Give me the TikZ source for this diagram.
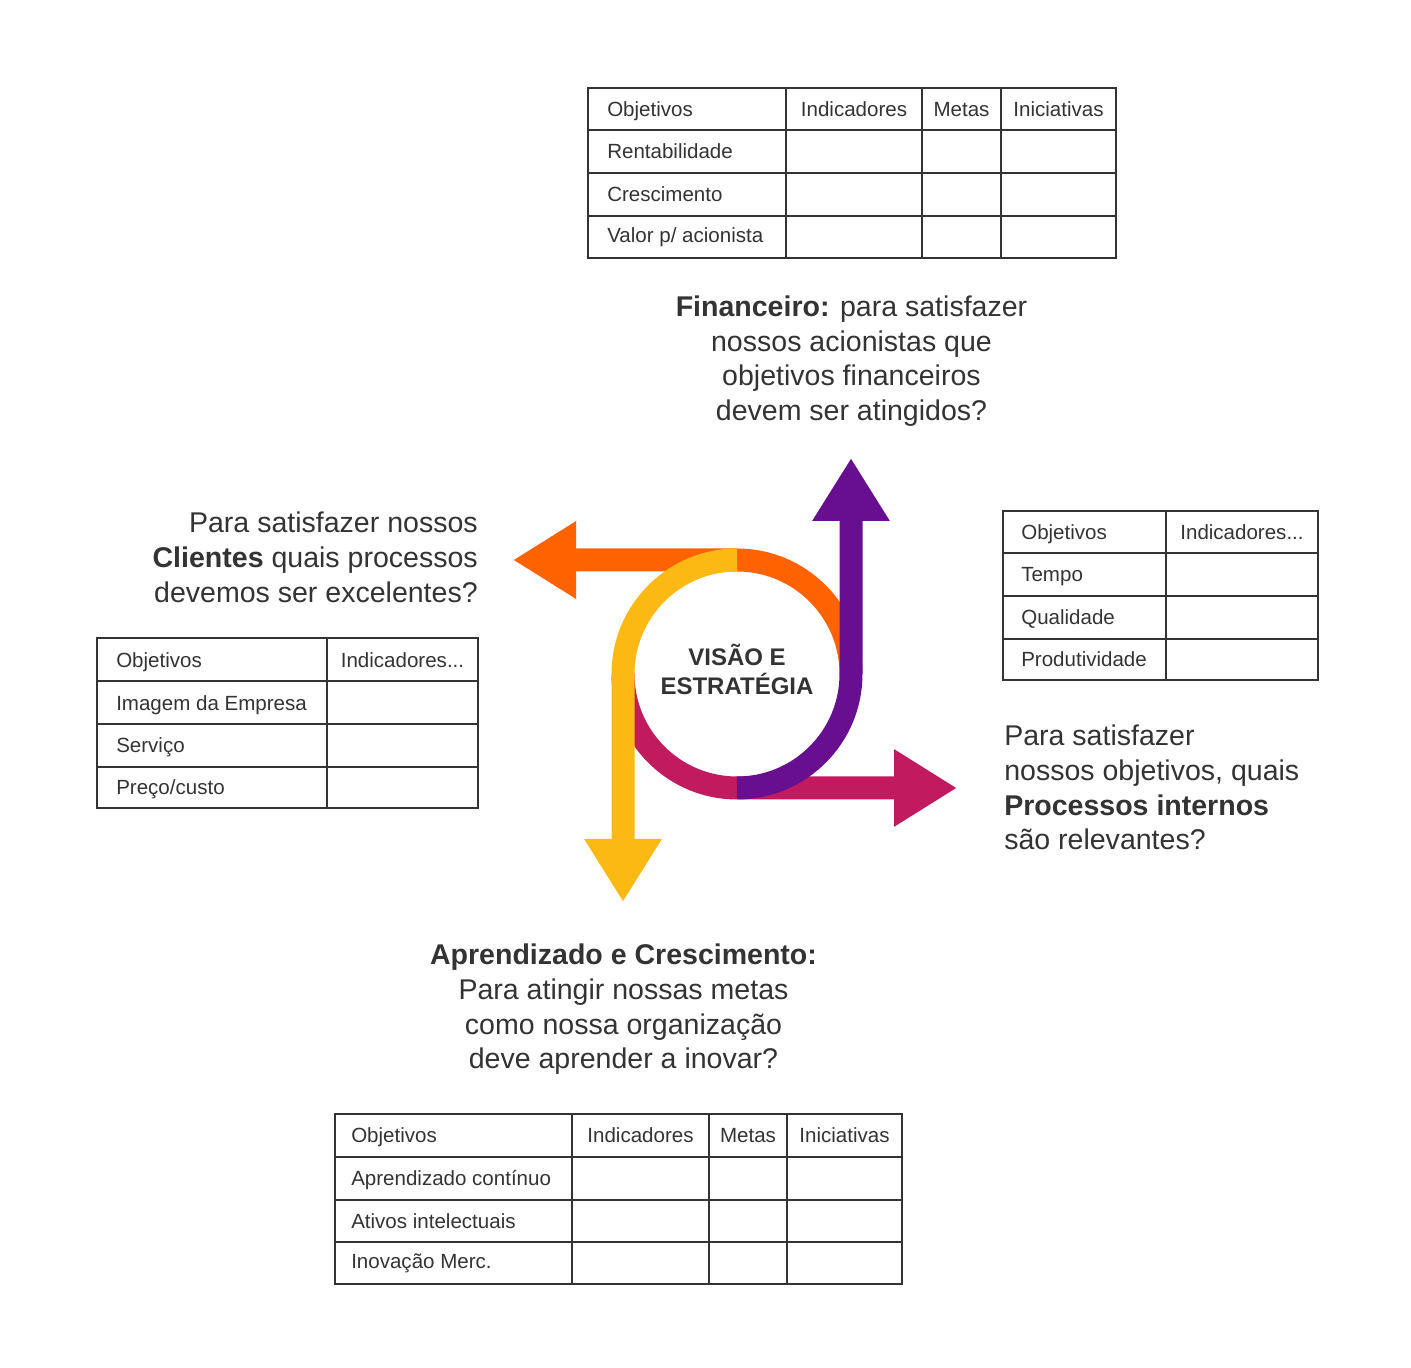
\documentclass[tikz,border=0pt]{standalone}
\usepackage{fontspec}
\setmainfont{Liberation Sans}
\usepackage{tikz}
\usetikzlibrary{arrows.meta}
\definecolor{TextGray}{HTML}{333333}
\definecolor{VisionOrange}{HTML}{FF6200}
\definecolor{VisionYellow}{HTML}{FDB913}
\definecolor{VisionPurple}{HTML}{680F8F}
\definecolor{VisionMagenta}{HTML}{C21A5F}

\begin{document}
\begin{tikzpicture}[x=0.75pt, y=0.75pt,
    band/.style={line width=17.25pt, -{Triangle[length=47.25pt, width=54.75pt]}},
    grid/.style={draw=TextGray, line width=1.5pt},
    cell/.style={anchor=base west, inner sep=0pt, text=TextGray, font=\fontsize{15.4pt}{18pt}\selectfont},
    head/.style={cell, anchor=base},
    question/.style={inner sep=0pt, text=TextGray, font=\fontsize{21.4pt}{25.9pt}\selectfont}
  ]
    \useasboundingbox (0,0) rectangle (1411,1368);

    % ring points and arrow tips
    \coordinate (ringE) at (851,694);
    \coordinate (ringN) at (737,808);
    \coordinate (ringW) at (623,694);
    \coordinate (ringS) at (737,580);
    \coordinate (tipW) at (513,808);
    \coordinate (tipE) at (957,580);
    \coordinate (tipN) at (851,910);
    \coordinate (tipS) at (623,466);

    \draw[band, VisionOrange] (ringE) arc[start angle=0, end angle=90, radius=85.5pt] -- (tipW);
    \draw[band, VisionMagenta] (ringW) arc[start angle=180, end angle=270, radius=85.5pt] -- (tipE);
    \draw[band, VisionPurple] (ringS) arc[start angle=270, end angle=360, radius=85.5pt] -- (tipN);
    \draw[band, VisionYellow] (ringN) arc[start angle=90, end angle=180, radius=85.5pt] -- (tipS);

    \node[align=center, inner sep=0pt, text=TextGray, font=\bfseries\fontsize{18pt}{21.75pt}\selectfont] (vision) at (737,698.5) {VISÃO E\\ESTRATÉGIA};

    % questions
    \node[question, align=center, anchor=north] (fin) at (851.5,1072) {\textbf{Financeiro:} para satisfazer\\nossos acionistas que\\objetivos financeiros\\devem ser atingidos?};
    \node[question, align=right, anchor=north east] (cli) at (478,856) {Para satisfazer nossos\\\textbf{Clientes} quais processos\\devemos ser excelentes?};
    \node[question, align=left, anchor=north west] (proc) at (1004,643) {Para satisfazer\\nossos objetivos, quais\\\textbf{Processos internos}\\são relevantes?};
    \node[question, align=center, anchor=north] (learn) at (623.5,424) {\textbf{Aprendizado e Crescimento:}\\Para atingir nossas metas\\como nossa organização\\deve aprender a inovar?};

    % financial table
    \draw[grid] (588,1110) rectangle (1116,1280);
    \draw[grid] (588,1238) -- (1116,1238) (588,1195) -- (1116,1195) (588,1152) -- (1116,1152)
                (786,1110) -- (786,1280) (922,1110) -- (922,1280) (1001,1110) -- (1001,1280);
    \node[cell] (finObj) at (607,1251.5) {Objetivos};
    \node[head] (finInd) at (854,1251.5) {Indicadores};
    \node[head] (finMet) at (961.5,1251.5) {Metas};
    \node[head] (finIni) at (1058.5,1251.5) {Iniciativas};
    \node[cell] (finRen) at (607,1209) {Rentabilidade};
    \node[cell] (finCre) at (607,1166) {Crescimento};
    \node[cell] (finVal) at (607,1125.5) {Valor p/ acionista};

    % clients table
    \draw[grid] (97,560) rectangle (478,730);
    \draw[grid] (97,687) -- (478,687) (97,644) -- (478,644) (97,601) -- (478,601)
                (327,560) -- (327,730);
    \node[cell] (cliObj) at (116,700) {Objetivos};
    \node[head] (cliInd) at (402.5,700) {Indicadores...};
    \node[cell] (cliIma) at (116,657) {Imagem da Empresa};
    \node[cell] (cliSer) at (116,615) {Serviço};
    \node[cell] (cliPre) at (116,573) {Preço/custo};

    % internal processes table
    \draw[grid] (1003,688) rectangle (1318,857);
    \draw[grid] (1003,815) -- (1318,815) (1003,772) -- (1318,772) (1003,729) -- (1318,729)
                (1166,688) -- (1166,857);
    \node[cell] (procObj) at (1021,828.5) {Objetivos};
    \node[head] (procInd) at (1242,828.5) {Indicadores...};
    \node[cell] (procTem) at (1021,786) {Tempo};
    \node[cell] (procQua) at (1021,743) {Qualidade};
    \node[cell] (procPro) at (1021,701) {Produtividade};

    % learning table
    \draw[grid] (335,84) rectangle (902,254);
    \draw[grid] (335,211) -- (902,211) (335,168) -- (902,168) (335,126) -- (902,126)
                (572,84) -- (572,254) (709,84) -- (709,254) (787,84) -- (787,254);
    \node[cell] (learnObj) at (351,225) {Objetivos};
    \node[head] (learnInd) at (640.5,225) {Indicadores};
    \node[head] (learnMet) at (748,225) {Metas};
    \node[head] (learnIni) at (844.5,225) {Iniciativas};
    \node[cell] (learnApr) at (351,182) {Aprendizado contínuo};
    \node[cell] (learnAti) at (351,139.5) {Ativos intelectuais};
    \node[cell] (learnIno) at (351,99.5) {Inovação Merc.};
  \end{tikzpicture}
\end{document}
